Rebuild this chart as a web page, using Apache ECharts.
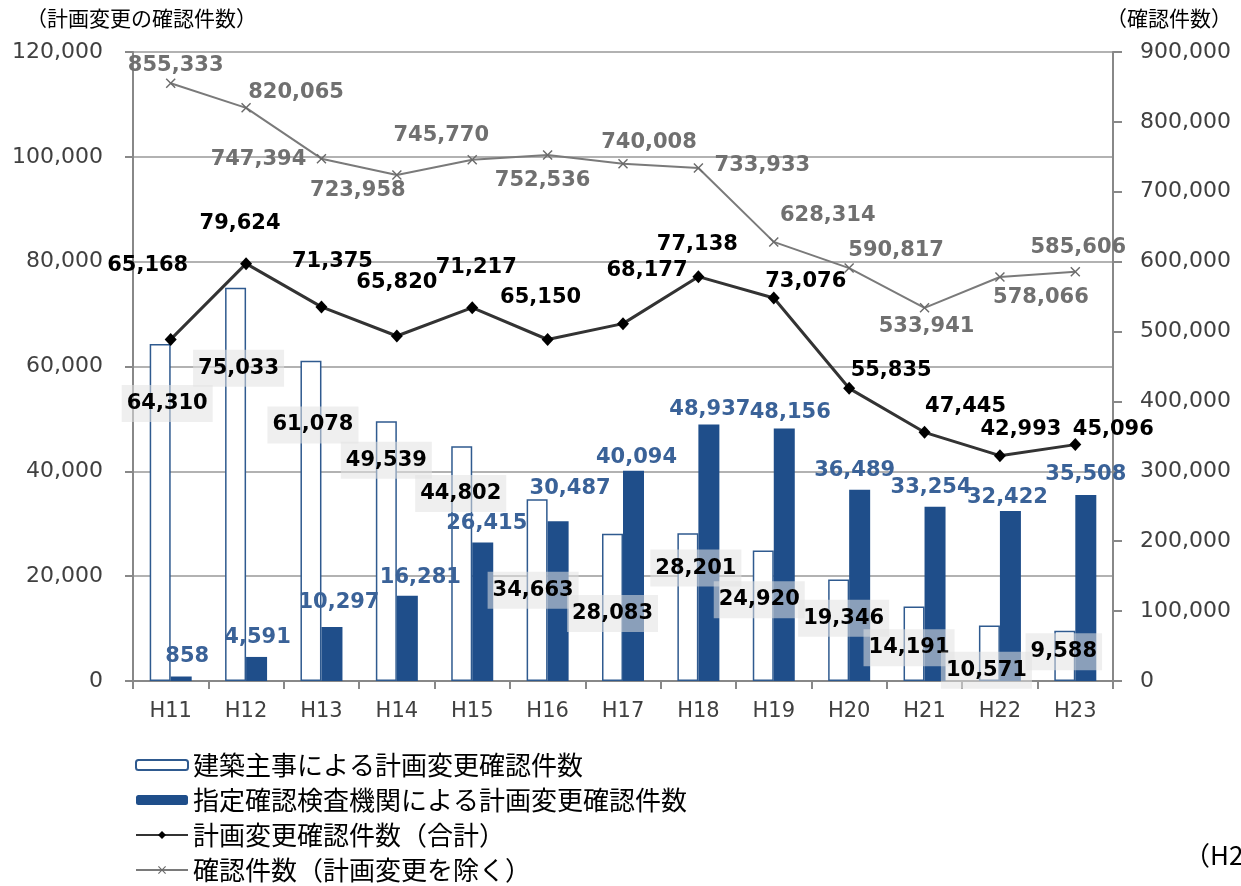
<!DOCTYPE html>
<html>
<head>
<meta charset="utf-8">
<script src="https://cdn.jsdelivr.net/npm/echarts@6/dist/echarts.min.js"></script>
<style>
  html, body { margin: 0; padding: 0; background: #fff; }
  #chart { width: 1241px; height: 886px; }
</style>
</head>
<body>
<div id="chart"></div>
<script>
// data
const categories = ['H11', 'H12', 'H13', 'H14', 'H15', 'H16', 'H17', 'H18', 'H19', 'H20', 'H21', 'H22', 'H23'];
const shujiCounts = [64310, 75033, 61078, 49539, 44802, 34663, 28083, 28201, 24920, 19346, 14191, 10571, 9588];
const kikanCounts = [858, 4591, 10297, 16281, 26415, 30487, 40094, 48937, 48156, 36489, 33254, 32422, 35508];
const totalCounts = [65168, 79624, 71375, 65820, 71217, 65150, 68177, 77138, 73076, 55835, 47445, 42993, 45096];
const kakuninCounts = [855333, 820065, 747394, 723958, 745770, 752536, 740008, 733933, 628314, 590817, 533941, 578066, 585606];

// label shifts (px) from each mark's centre, as placed in the reference
const shujiLabelShift = [[7, -109], [3, -116], [2, -96], [0, -91], [-1, -70], [-4, 0], [0, 6], [8, -39], [-4, -16], [5, -12], [-5, 4], [-3, 17], [-1, -4]];
const kikanLabelShift = [[6, -22], [1, -31], [7, -51], [13, -61], [4, -88], [12, -113], [3, -118], [1, -143], [6, -142], [-5, -115], [-4, -106], [-3, -98], [0, -113]];
const totalLabelShift = [[-23, -74], [-6, -40], [11, -45], [0, -53], [4, -40], [-7, -42], [24, -53], [-1, -32], [32, -16], [42, -18], [41, -26], [21, -26], [38, -15]];
const kakuninLabelShift = [[5, -18], [50, -15], [-63, 1], [-39, 16], [-31, -24], [-5, 25], [26, -21], [64, -3], [54, -26], [47, -18], [2, 19], [41, 21], [3, -24]];

const fmt = v => String(v).replace(/\B(?=(\d{3})+(?!\d))/g, ',');
const withShift = (values, shifts) => values.map((v, i) => ({ value: v, label: { offset: shifts[i] } }));

const numFont = 'DejaVu Sans';
const jpFont = '"Noto Sans CJK JP", sans-serif';
const crossSymbol = 'path://M0,1L1,0L5,4L9,0L10,1L6,5L10,9L9,10L5,6L1,10L0,9L4,5Z';

const chart = echarts.init(document.getElementById('chart'));

chart.setOption({
    backgroundColor: '#fff',
    animation: false,
    grid: { left: 133, right: 128, top: 52, bottom: 205 },
    graphic: [
        { type: 'text', left: 26, top: 8, style: { text: '（計画変更の確認件数）', font: '21px ' + jpFont, fill: '#000' } },
        { type: 'text', left: 1106, top: 8, style: { text: '（確認件数）', font: '21px ' + jpFont, fill: '#000' } },
        { type: 'text', left: 1184, top: 842, style: { text: '（H23）', font: '26px ' + jpFont, fill: '#000' } }
    ],
    legend: {
        orient: 'vertical',
        left: 135,
        top: 750,
        height: 140,
        padding: 0,
        itemWidth: 52,
        itemHeight: 10,
        itemGap: 5,
        textStyle: { fontFamily: jpFont, fontSize: 26, lineHeight: 30, color: '#000' },
        data: ['建築主事による計画変更確認件数', '指定確認検査機関による計画変更確認件数', '計画変更確認件数（合計）', '確認件数（計画変更を除く）']
    },
    xAxis: {
        type: 'category',
        data: categories,
        axisLine: { lineStyle: { color: '#888', width: 2 } },
        axisTick: { show: true, length: 8, lineStyle: { color: '#888', width: 2 } },
        axisLabel: { fontFamily: numFont, fontSize: 21, color: '#404040', margin: 20 }
    },
    yAxis: [
        {
            type: 'value',
            min: 0,
            max: 120000,
            interval: 20000,
            axisLine: { show: true, lineStyle: { color: '#888', width: 2 } },
            axisTick: { show: true, length: 8, lineStyle: { color: '#888', width: 2 } },
            axisLabel: { fontFamily: numFont, fontSize: 22, color: '#404040', margin: 30, formatter: fmt },
            splitLine: { lineStyle: { color: '#999', width: 1.5 } }
        },
        {
            type: 'value',
            min: 0,
            max: 900000,
            interval: 100000,
            axisLine: { show: true, lineStyle: { color: '#888', width: 2 } },
            axisTick: { show: true, length: 9, lineStyle: { color: '#888', width: 2 } },
            axisLabel: { fontFamily: numFont, fontSize: 22, color: '#404040', margin: 27, formatter: fmt },
            splitLine: { show: false }
        }
    ],
    series: [
        {
            name: '建築主事による計画変更確認件数',
            type: 'bar',
            barWidth: 21,
            barGap: '0%',
            itemStyle: { color: '#fff', borderColor: '#2f5a8f', borderWidth: 1.5 },
            label: {
                show: true,
                position: 'inside',
                formatter: p => fmt(p.value),
                fontFamily: numFont,
                fontSize: 21,
                fontWeight: 'bold',
                color: '#000',
                backgroundColor: 'rgba(225,225,225,0.55)',
                padding: [8, 5]
            },
            z: 2,
            data: withShift(shujiCounts, shujiLabelShift)
        },
        {
            name: '指定確認検査機関による計画変更確認件数',
            type: 'bar',
            barWidth: 21,
            itemStyle: { color: '#1f4e8a' },
            label: {
                show: true,
                position: 'inside',
                formatter: p => fmt(p.value),
                fontFamily: numFont,
                fontSize: 21,
                fontWeight: 'bold',
                color: '#3a6298'
            },
            z: 2,
            data: withShift(kikanCounts, kikanLabelShift)
        },
        {
            name: '計画変更確認件数（合計）',
            type: 'line',
            symbol: 'diamond',
            symbolSize: [12, 13],
            lineStyle: { color: '#333', width: 3 },
            itemStyle: { color: '#000' },
            label: {
                show: true,
                position: 'inside',
                formatter: p => fmt(p.value),
                fontFamily: numFont,
                fontSize: 21,
                fontWeight: 'bold',
                color: '#000'
            },
            z: 5,
            data: withShift(totalCounts, totalLabelShift)
        },
        {
            name: '確認件数（計画変更を除く）',
            type: 'line',
            yAxisIndex: 1,
            symbol: crossSymbol,
            symbolSize: 10,
            lineStyle: { color: '#7a7a7a', width: 2 },
            itemStyle: { color: '#6a6a6a' },
            label: {
                show: true,
                position: 'inside',
                formatter: p => fmt(p.value),
                fontFamily: numFont,
                fontSize: 21,
                fontWeight: 'bold',
                color: '#707070'
            },
            z: 4,
            data: withShift(kakuninCounts, kakuninLabelShift)
        }
    ]
});
</script>
</body>
</html>
